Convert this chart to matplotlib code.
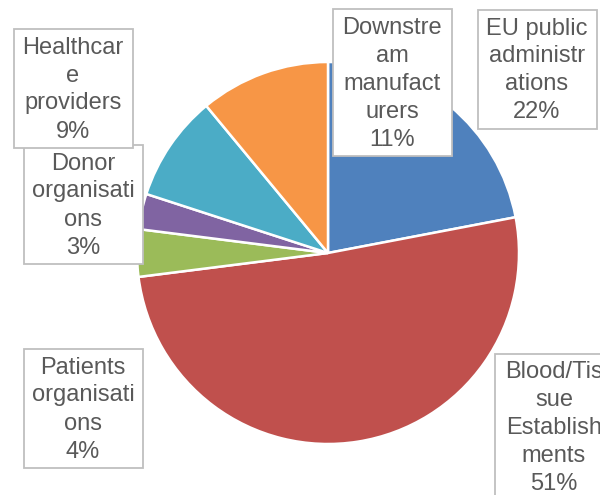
import matplotlib
matplotlib.use("Agg")
import matplotlib.pyplot as plt
from matplotlib.patches import Rectangle

# ==============================
# Data
# ==============================
categories = [
    "EU public administrations",
    "Blood/Tissue Establishments",
    "Patients organisations",
    "Donor organisations",
    "Healthcare providers",
    "Downstream manufacturers",
]
shares = [22, 51, 4, 3, 9, 11]

# label text wrapped the way the reference wraps it
label_lines = [
    ["EU public", "administr", "ations"],
    ["Blood/Tis", "sue", "Establish", "ments"],
    ["Patients", "organisati", "ons"],
    ["Donor", "organisati", "ons"],
    ["Healthcar", "e", "providers"],
    ["Downstre", "am", "manufact", "urers"],
]

colors = ["#4F81BD", "#C0504D", "#9BBB59", "#8064A2", "#4BACC6", "#F79646"]

# label box placement in pixels (center x, top y)
box_pos = [(537, 10), (554, 354), (83, 349), (83, 145), (73, 29), (392, 9)]

TEXT_COLOR = "#595959"
BOX_EDGE = "#BFBFBF"
W, H = 600, 495

fig = plt.figure(figsize=(W / 100, H / 100), dpi=100)
ax = fig.add_axes([0, 0, 1, 1])

ax.pie(
    shares,
    colors=colors,
    startangle=-90,
    counterclock=True,
    center=(328, 253),
    radius=191,
    wedgeprops=dict(edgecolor="white", linewidth=1.8),
    frame=True,
)

ax.set_xlim(0, W)
ax.set_ylim(H, 0)
ax.set_aspect("auto")
ax.axis("off")

line_h = 28
for lines, share, (cx, top) in zip(label_lines, shares, box_pos):
    txt = lines + [f"{share}%"]
    bh = line_h * len(txt) + 7
    bw = 119
    ax.add_patch(Rectangle((cx - bw / 2, top), bw, bh,
                           facecolor="white", edgecolor=BOX_EDGE,
                           linewidth=1.3, zorder=5))
    for k, s in enumerate(txt):
        ax.text(cx, top + 3.5 + line_h * (k + 0.5) + 1, s,
                ha="center", va="center", fontsize=17,
                family="Liberation Sans", color=TEXT_COLOR, zorder=6)

fig.savefig("out.png", dpi=100)
